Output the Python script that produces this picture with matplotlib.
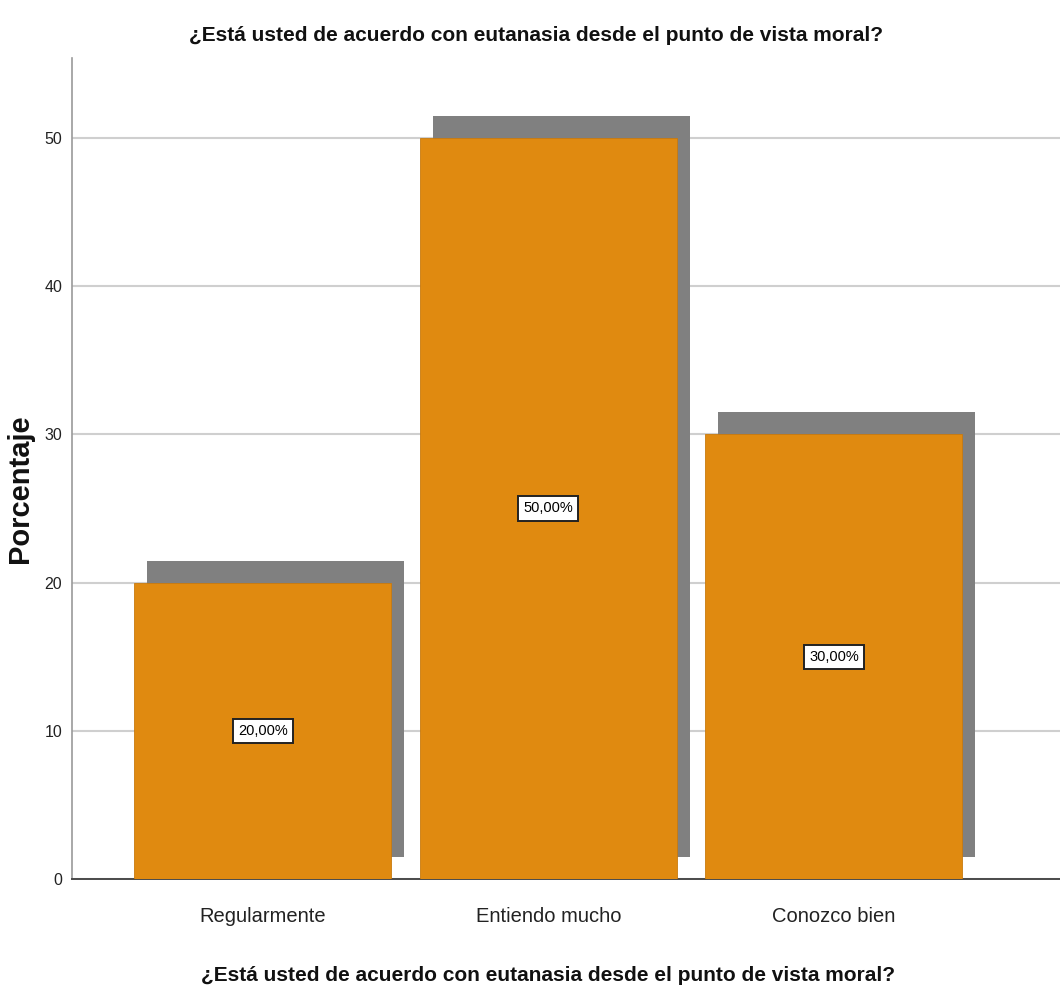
import matplotlib
matplotlib.use("Agg")
import matplotlib.pyplot as plt
from matplotlib import font_manager

categories = ["Regularmente", "Entiendo mucho", "Conozco bien"]
values = [20, 50, 30]
yticks = [0, 10, 20, 30, 40, 50]
title = "¿Está usted de acuerdo con eutanasia desde el punto de vista moral?"
ylabel = "Porcentaje"

names = {f.name for f in font_manager.fontManager.ttflist}
narrow = "Liberation Sans Narrow" if "Liberation Sans Narrow" in names else "Liberation Sans"
plt.rcParams['font.family'] = [narrow, 'DejaVu Sans']

bar_color = "#E08A10"
shadow_color = "#808080"

fig = plt.figure(figsize=(10.6, 9.94), dpi=100)
ax = fig.add_axes([0.0679, 0.1157, 0.9321, 0.826])

x = list(range(len(categories)))
w = 0.9
dx, dy = 0.0455, 1.48
ax.bar([i + dx for i in x], values, width=w, bottom=dy, color=shadow_color, zorder=2)
ax.bar(x, values, width=w, color=bar_color, edgecolor="#C87A0E", linewidth=0.6, zorder=3)

for i, v in zip(x, values):
    ax.text(i, v / 2, f"{v:.2f}".replace(".", ",") + "%", ha="center", va="center",
            fontsize=10.5, color="black", zorder=5,
            bbox=dict(boxstyle="square,pad=0.35", fc="white", ec="#222222", lw=1.4))

ax.set_xlim(-0.669, 2.792)
ax.set_ylim(0, 55.4)
ax.set_yticks(yticks)
ax.set_yticklabels([str(t) for t in yticks], fontsize=11.5, color="#222222")
ax.set_xticks(x)
ax.set_xticklabels(categories, fontsize=14.5, color="#222222")
ax.tick_params(axis="x", length=0, pad=20)
ax.tick_params(axis="y", length=0, pad=7)
ax.yaxis.grid(True, color="#CFCFCF", linewidth=1.5, zorder=0)
ax.set_axisbelow(True)
for s in ["top", "right"]:
    ax.spines[s].set_visible(False)
ax.spines["left"].set_color("#9A9A9A")
ax.spines["left"].set_linewidth(1.2)
ax.spines["bottom"].set_color("#4A4A4A")
ax.spines["bottom"].set_linewidth(1.4)

fig.text(0.506, 0.964, title, ha="center", va="center", fontsize=15, fontweight="bold", color="#111111")
fig.text(0.517, 0.019, title, ha="center", va="center", fontsize=15, fontweight="bold", color="#111111")
fig.text(0.019, 0.508, ylabel, ha="center", va="center", rotation=90, fontsize=21,
         fontweight="bold", color="#111111", family=["Liberation Sans", "DejaVu Sans"])

fig.savefig("out.png", dpi=100)
